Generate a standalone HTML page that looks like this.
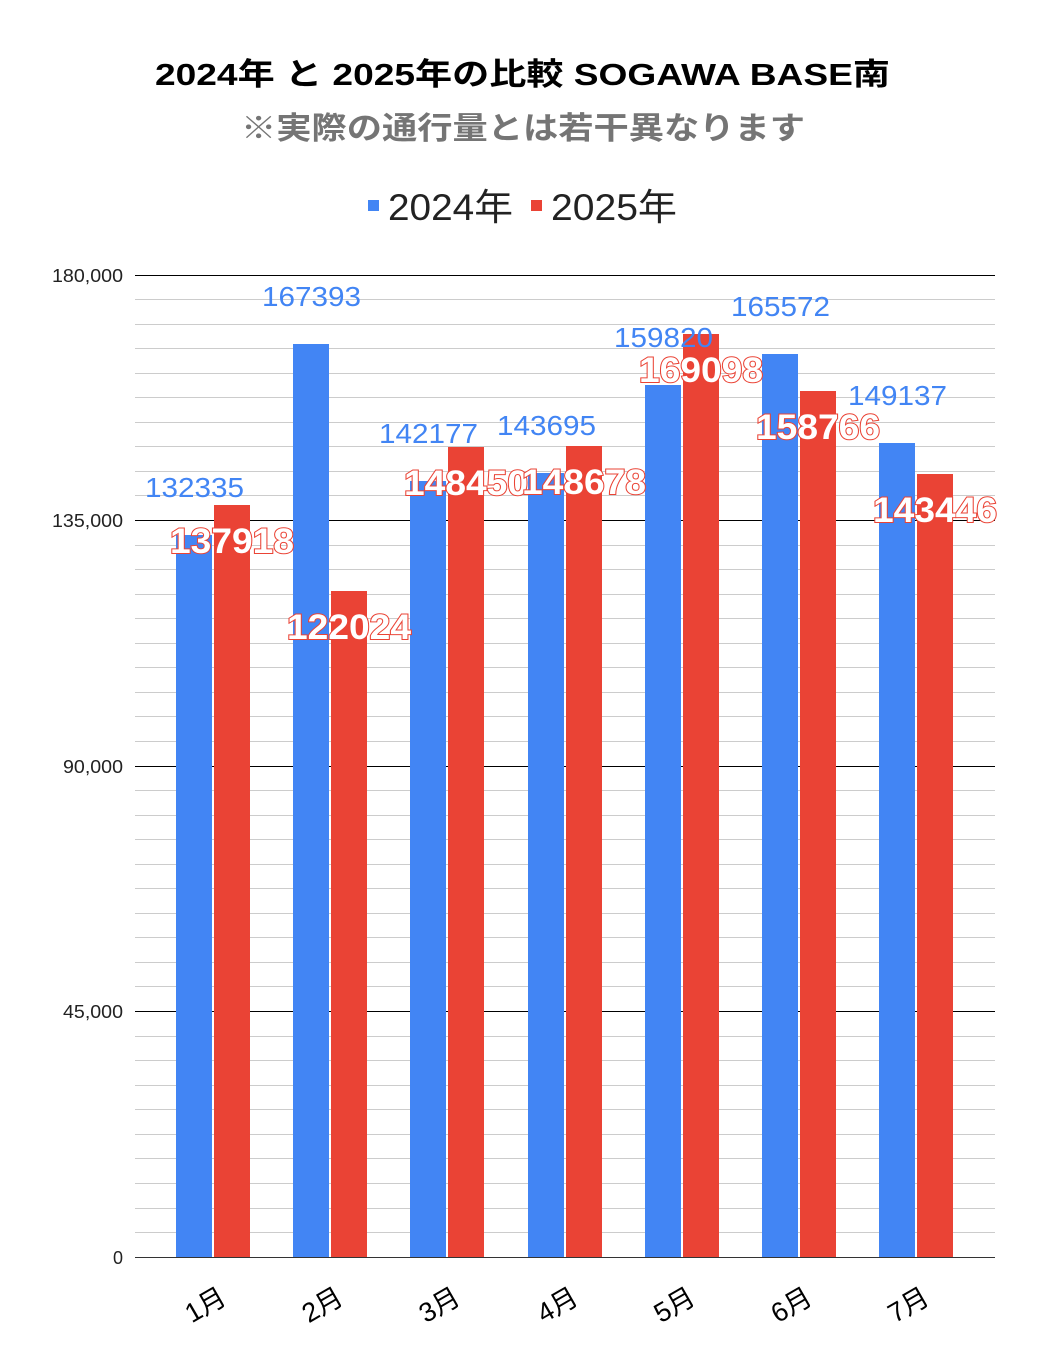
<!DOCTYPE html>
<html><head><meta charset="utf-8"><style>
html,body{margin:0;padding:0;background:#fff;}
svg text{font-family:"Liberation Sans","Noto Sans CJK JP",sans-serif;}
</style></head><body>
<svg width="1047" height="1364" viewBox="0 0 1047 1364" xmlns="http://www.w3.org/2000/svg">
<rect width="1047" height="1364" fill="#fff"/>
<text x="155" y="85" font-size="31" font-weight="bold" fill="#000" textLength="735" lengthAdjust="spacingAndGlyphs">2024年 と 2025年の比較  SOGAWA  BASE南</text>
<text x="241" y="139" font-size="31" font-weight="bold" fill="#757575" textLength="564" lengthAdjust="spacingAndGlyphs">※実際の通行量とは若干異なります</text>
<rect x="368" y="200" width="11" height="11" fill="#4285f4"/>
<text x="388" y="220" font-size="37" fill="#222" textLength="125" lengthAdjust="spacingAndGlyphs">2024年</text>
<rect x="531" y="200" width="11" height="11" fill="#ea4335"/>
<text x="551" y="220" font-size="37" fill="#222" textLength="126" lengthAdjust="spacingAndGlyphs">2025年</text>
<g stroke="#cccccc" stroke-width="1">
<line x1="135" x2="995" y1="299.5" y2="299.5"/><line x1="135" x2="995" y1="324.5" y2="324.5"/><line x1="135" x2="995" y1="348.5" y2="348.5"/><line x1="135" x2="995" y1="373.5" y2="373.5"/><line x1="135" x2="995" y1="397.5" y2="397.5"/><line x1="135" x2="995" y1="422.5" y2="422.5"/><line x1="135" x2="995" y1="446.5" y2="446.5"/><line x1="135" x2="995" y1="471.5" y2="471.5"/><line x1="135" x2="995" y1="495.5" y2="495.5"/>
<line x1="135" x2="995" y1="545.5" y2="545.5"/><line x1="135" x2="995" y1="569.5" y2="569.5"/><line x1="135" x2="995" y1="594.5" y2="594.5"/><line x1="135" x2="995" y1="618.5" y2="618.5"/><line x1="135" x2="995" y1="643.5" y2="643.5"/><line x1="135" x2="995" y1="667.5" y2="667.5"/><line x1="135" x2="995" y1="692.5" y2="692.5"/><line x1="135" x2="995" y1="716.5" y2="716.5"/><line x1="135" x2="995" y1="741.5" y2="741.5"/>
<line x1="135" x2="995" y1="790.5" y2="790.5"/><line x1="135" x2="995" y1="815.5" y2="815.5"/><line x1="135" x2="995" y1="839.5" y2="839.5"/><line x1="135" x2="995" y1="864.5" y2="864.5"/><line x1="135" x2="995" y1="888.5" y2="888.5"/><line x1="135" x2="995" y1="913.5" y2="913.5"/><line x1="135" x2="995" y1="937.5" y2="937.5"/><line x1="135" x2="995" y1="962.5" y2="962.5"/><line x1="135" x2="995" y1="986.5" y2="986.5"/>
<line x1="135" x2="995" y1="1036.5" y2="1036.5"/><line x1="135" x2="995" y1="1060.5" y2="1060.5"/><line x1="135" x2="995" y1="1085.5" y2="1085.5"/><line x1="135" x2="995" y1="1109.5" y2="1109.5"/><line x1="135" x2="995" y1="1134.5" y2="1134.5"/><line x1="135" x2="995" y1="1158.5" y2="1158.5"/><line x1="135" x2="995" y1="1183.5" y2="1183.5"/><line x1="135" x2="995" y1="1208.5" y2="1208.5"/><line x1="135" x2="995" y1="1232.5" y2="1232.5"/>
</g>
<g stroke="#000" stroke-width="1">
<line x1="135" x2="995" y1="275.5" y2="275.5"/><line x1="135" x2="995" y1="520.5" y2="520.5"/><line x1="135" x2="995" y1="766.5" y2="766.5"/><line x1="135" x2="995" y1="1011.5" y2="1011.5"/>
</g>
<g font-size="18" fill="#222" text-anchor="end">
<text x="123" y="282" textLength="71" lengthAdjust="spacingAndGlyphs">180,000</text><text x="123" y="527" textLength="71" lengthAdjust="spacingAndGlyphs">135,000</text><text x="123" y="773" textLength="60" lengthAdjust="spacingAndGlyphs">90,000</text><text x="123" y="1018" textLength="60" lengthAdjust="spacingAndGlyphs">45,000</text><text x="123" y="1264">0</text>
</g>
<g fill="#4285f4">
<rect x="176" y="535" width="36" height="722"/><rect x="293" y="344" width="36" height="913"/><rect x="410" y="481" width="36" height="776"/><rect x="528" y="473" width="36" height="784"/><rect x="645" y="385" width="36" height="872"/><rect x="762" y="354" width="36" height="903"/><rect x="879" y="443" width="36" height="814"/>
</g>
<g fill="#ea4335">
<rect x="214" y="505" width="36" height="752"/><rect x="331" y="591" width="36" height="666"/><rect x="448" y="447" width="36" height="810"/><rect x="566" y="446" width="36" height="811"/><rect x="683" y="334" width="36" height="923"/><rect x="800" y="391" width="36" height="866"/><rect x="917" y="474" width="36" height="783"/>
</g>
<line x1="135" x2="995" y1="1257.5" y2="1257.5" stroke="#333" stroke-width="1"/>
<g font-size="28" fill="#4285f4">
<text x="145" y="497" textLength="99" lengthAdjust="spacingAndGlyphs">132335</text><text x="262" y="306" textLength="99" lengthAdjust="spacingAndGlyphs">167393</text><text x="379" y="443" textLength="99" lengthAdjust="spacingAndGlyphs">142177</text><text x="497" y="435" textLength="99" lengthAdjust="spacingAndGlyphs">143695</text><text x="614" y="347" textLength="99" lengthAdjust="spacingAndGlyphs">159820</text><text x="731" y="316" textLength="99" lengthAdjust="spacingAndGlyphs">165572</text><text x="848" y="405" textLength="99" lengthAdjust="spacingAndGlyphs">149137</text>
</g>
<g font-size="35" font-weight="bold" fill="#fff" stroke="#ea4335" stroke-width="2" paint-order="stroke">
<text x="170" y="553" textLength="124" lengthAdjust="spacingAndGlyphs">137918</text><text x="287" y="639" textLength="124" lengthAdjust="spacingAndGlyphs">122024</text><text x="404" y="495" textLength="124" lengthAdjust="spacingAndGlyphs">148450</text><text x="522" y="494" textLength="124" lengthAdjust="spacingAndGlyphs">148678</text><text x="639" y="382" textLength="124" lengthAdjust="spacingAndGlyphs">169098</text><text x="756" y="439" textLength="124" lengthAdjust="spacingAndGlyphs">158766</text><text x="873" y="522" textLength="124" lengthAdjust="spacingAndGlyphs">143446</text>
</g>
<g font-size="27" fill="#000" text-anchor="middle">
<text transform="translate(210,1313) rotate(-30)">1月</text>
<text transform="translate(327,1313) rotate(-30)">2月</text>
<text transform="translate(444,1313) rotate(-30)">3月</text>
<text transform="translate(562,1313) rotate(-30)">4月</text>
<text transform="translate(679,1313) rotate(-30)">5月</text>
<text transform="translate(796,1313) rotate(-30)">6月</text>
<text transform="translate(913,1313) rotate(-30)">7月</text>
</g>
</svg>
</body></html>
